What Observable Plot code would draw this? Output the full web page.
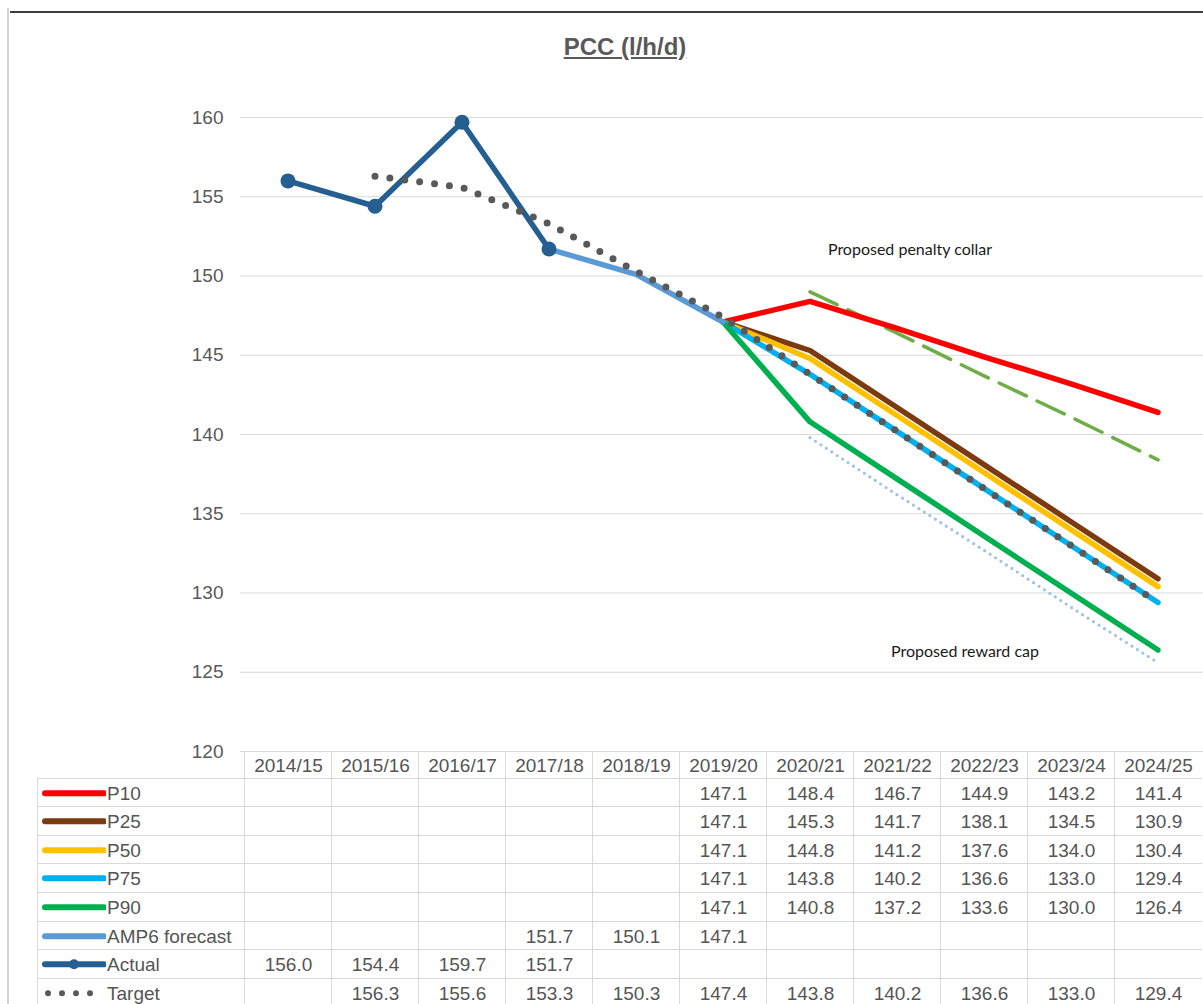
<!DOCTYPE html>
<html>
<head>
<meta charset="utf-8">
<script src="https://cdn.jsdelivr.net/npm/d3@7"></script>
<script src="https://cdn.jsdelivr.net/npm/@observablehq/plot@0.6"></script>
<style>
  html, body { margin: 0; padding: 0; background: #fff; }
  #wrap { position: relative; width: 1203px; height: 1004px; overflow: hidden;
          font-family: "Liberation Sans", Arial, sans-serif; }
  #wrap svg.plot { position: absolute; left: 0; top: 0; overflow: visible; }
  .frame-top { position: absolute; left: 10px; right: 0; top: 11px; height: 2px; background: #3c3c3c; }
  .frame-left { position: absolute; left: 7px; top: 8px; bottom: 0; width: 2px; background: #d4d4d4; }
  .title { position: absolute; left: 0; width: 1250px; top: 33px; text-align: center;
           font: bold 24px "Liberation Sans", Arial, sans-serif; color: #595959; text-decoration: underline; }
  .cell { position: absolute; box-sizing: border-box; border-left: 1px solid #d9d9d9; border-top: 1px solid #d9d9d9;
          font-size: 19px; color: #555555; text-align: center; white-space: nowrap; }
  .label { text-align: left; }
  .label svg { position: absolute; left: 4px; top: 0; }
  .label span { position: absolute; left: 69px; }
</style>
</head>
<body>
<div id="wrap">
  <div class="frame-top"></div>
  <div class="frame-left"></div>
  <div class="title">PCC (l/h/d)</div>
</div>
<script>
// Financial years on the category axis
const years = ["2014/15", "2015/16", "2016/17", "2017/18", "2018/19", "2019/20",
               "2020/21", "2021/22", "2022/23", "2023/24", "2024/25"];

// Per capita consumption, litres/head/day (null = no value)
const p10 = [null, null, null, null, null, 147.1, 148.4, 146.7, 144.9, 143.2, 141.4];
const p25 = [null, null, null, null, null, 147.1, 145.3, 141.7, 138.1, 134.5, 130.9];
const p50 = [null, null, null, null, null, 147.1, 144.8, 141.2, 137.6, 134.0, 130.4];
const p75 = [null, null, null, null, null, 147.1, 143.8, 140.2, 136.6, 133.0, 129.4];
const p90 = [null, null, null, null, null, 147.1, 140.8, 137.2, 133.6, 130.0, 126.4];
const amp6 = [null, null, null, 151.7, 150.1, 147.1, null, null, null, null, null];
const actual = [156.0, 154.4, 159.7, 151.7, null, null, null, null, null, null, null];
const target = [null, 156.3, 155.6, 153.3, 150.3, 147.4, 143.8, 140.2, 136.6, 133.0, 129.4];

// Proposed ODI thresholds (not in the data table)
const collar = [null, null, null, null, null, null, 149.0, 146.4, 143.7, 141.1, 138.4];
const rewardCap = [null, null, null, null, null, null, 139.8, 136.2, 132.7, 129.1, 125.6];

// Y-axis ticks
const yTicks = [120, 125, 130, 135, 140, 145, 150, 155, 160];

// Series shown in the chart and in the data table, in drawing order
const series = [
  {name: "P10", values: p10, color: "#ff0000", kind: "line"},
  {name: "P25", values: p25, color: "#7b3a10", kind: "line"},
  {name: "P50", values: p50, color: "#ffc000", kind: "line"},
  {name: "P75", values: p75, color: "#00b0f0", kind: "line"},
  {name: "P90", values: p90, color: "#00b050", kind: "line"},
  {name: "AMP6 forecast", values: amp6, color: "#5b9bd5", kind: "line"},
  {name: "Actual", values: actual, color: "#255e91", kind: "marker"},
  {name: "Target", values: target, color: "#595959", kind: "dots"}
];

const pts = (vals) => years.map((year, i) => ({year, value: vals[i]})).filter(d => d.value != null);

const lineMarks = series.flatMap(s => {
  const data = pts(s.values);
  if (s.kind === "dots") {
    return [Plot.line(data, {x: "year", y: "value", stroke: s.color, strokeWidth: 7,
      strokeDasharray: "0 15", strokeLinecap: "round"})];
  }
  const m = [Plot.line(data, {x: "year", y: "value", stroke: s.color, strokeWidth: 5.5,
    strokeLinecap: "round", strokeLinejoin: "round"})];
  if (s.kind === "marker") m.push(Plot.dot(data, {x: "year", y: "value", r: 7.5, fill: s.color}));
  return m;
});

const collarPts = pts(collar);
const capPts = pts(rewardCap);

const chart = Plot.plot({
  width: 1203,
  height: 1004,
  marginLeft: 240,
  marginRight: -2,
  marginTop: 117,
  marginBottom: 253,
  style: {fontFamily: '"Liberation Sans", Arial, sans-serif', background: "transparent", overflow: "visible"},
  x: {type: "band", domain: years, padding: 0, axis: null},
  y: {domain: [120, 160], ticks: yTicks},
  marks: [
    Plot.gridY(yTicks, {stroke: "#d9d9d9", strokeOpacity: 1, strokeWidth: 1}),
    Plot.axisY(yTicks, {tickSize: 0, tickPadding: 17, fontSize: 19, fill: "#595959", label: null}),
    Plot.line(collarPts, {x: "year", y: "value", stroke: "#70ad47", strokeWidth: 3.5, strokeDasharray: "30 12"}),
    Plot.line(capPts, {x: "year", y: "value", stroke: "#9dc3e6", strokeWidth: 3.2,
      strokeDasharray: "0 6.5", strokeLinecap: "round"}),
    ...lineMarks,
    Plot.text(collarPts, Plot.selectFirst({x: "year", y: "value", text: () => "Proposed penalty collar",
      dx: 100, dy: -42, fontSize: 16, fill: "#1a1a1a", fontFamily: "Lato, 'Open Sans', sans-serif"})),
    Plot.text(capPts, Plot.selectLast({x: "year", y: "value", text: () => "Proposed reward cap",
      dx: -193, dy: -11, fontSize: 16, fill: "#1a1a1a", fontFamily: "Lato, 'Open Sans', sans-serif"}))
  ]
});
chart.classList.add("plot");
const wrap = document.getElementById("wrap");
wrap.insertBefore(chart, wrap.querySelector(".title"));

// Data table under the plot, columns aligned with the x band scale
const xs = chart.scale("x");
const bw = xs.bandwidth;
const tableTop = chart.scale("y").apply(120);
const headH = 26.5, rowH = 28.6, labelLeft = 37;
const fmt = d3.format(".1f");

function cell(left, top, width, height, cls) {
  const div = document.createElement("div");
  div.className = "cell" + (cls ? " " + cls : "");
  Object.assign(div.style, {left: left + "px", top: top + "px", width: width + "px", height: height + "px",
    lineHeight: height + "px"});
  wrap.appendChild(div);
  return div;
}

years.forEach(y => { cell(xs.apply(y), tableTop, bw + 1, headH + 1).textContent = y; });

series.forEach((s, r) => {
  const top = tableTop + headH + r * rowH;
  const lab = cell(labelLeft, top, xs.apply(years[0]) - labelLeft + 1, rowH + 1, "label");
  const sw = d3.select(lab).append("svg").attr("width", 64).attr("height", rowH);
  if (s.kind === "dots") {
    sw.selectAll("circle").data([3, 17, 31, 45]).join("circle")
      .attr("cx", d => d + 3).attr("cy", rowH / 2).attr("r", 3).attr("fill", s.color);
  } else {
    sw.append("line").attr("x1", 3).attr("x2", 62).attr("y1", rowH / 2).attr("y2", rowH / 2)
      .attr("stroke", s.color).attr("stroke-width", 6).attr("stroke-linecap", "round");
    if (s.kind === "marker") sw.append("circle").attr("cx", 32).attr("cy", rowH / 2).attr("r", 5).attr("fill", s.color);
  }
  const sp = document.createElement("span");
  sp.textContent = s.name;
  lab.appendChild(sp);
  years.forEach((y, i) => {
    const v = s.values[i];
    cell(xs.apply(y), top, bw + 1, rowH + 1).textContent = v == null ? "" : fmt(v);
  });
});
</script>
</body>
</html>
